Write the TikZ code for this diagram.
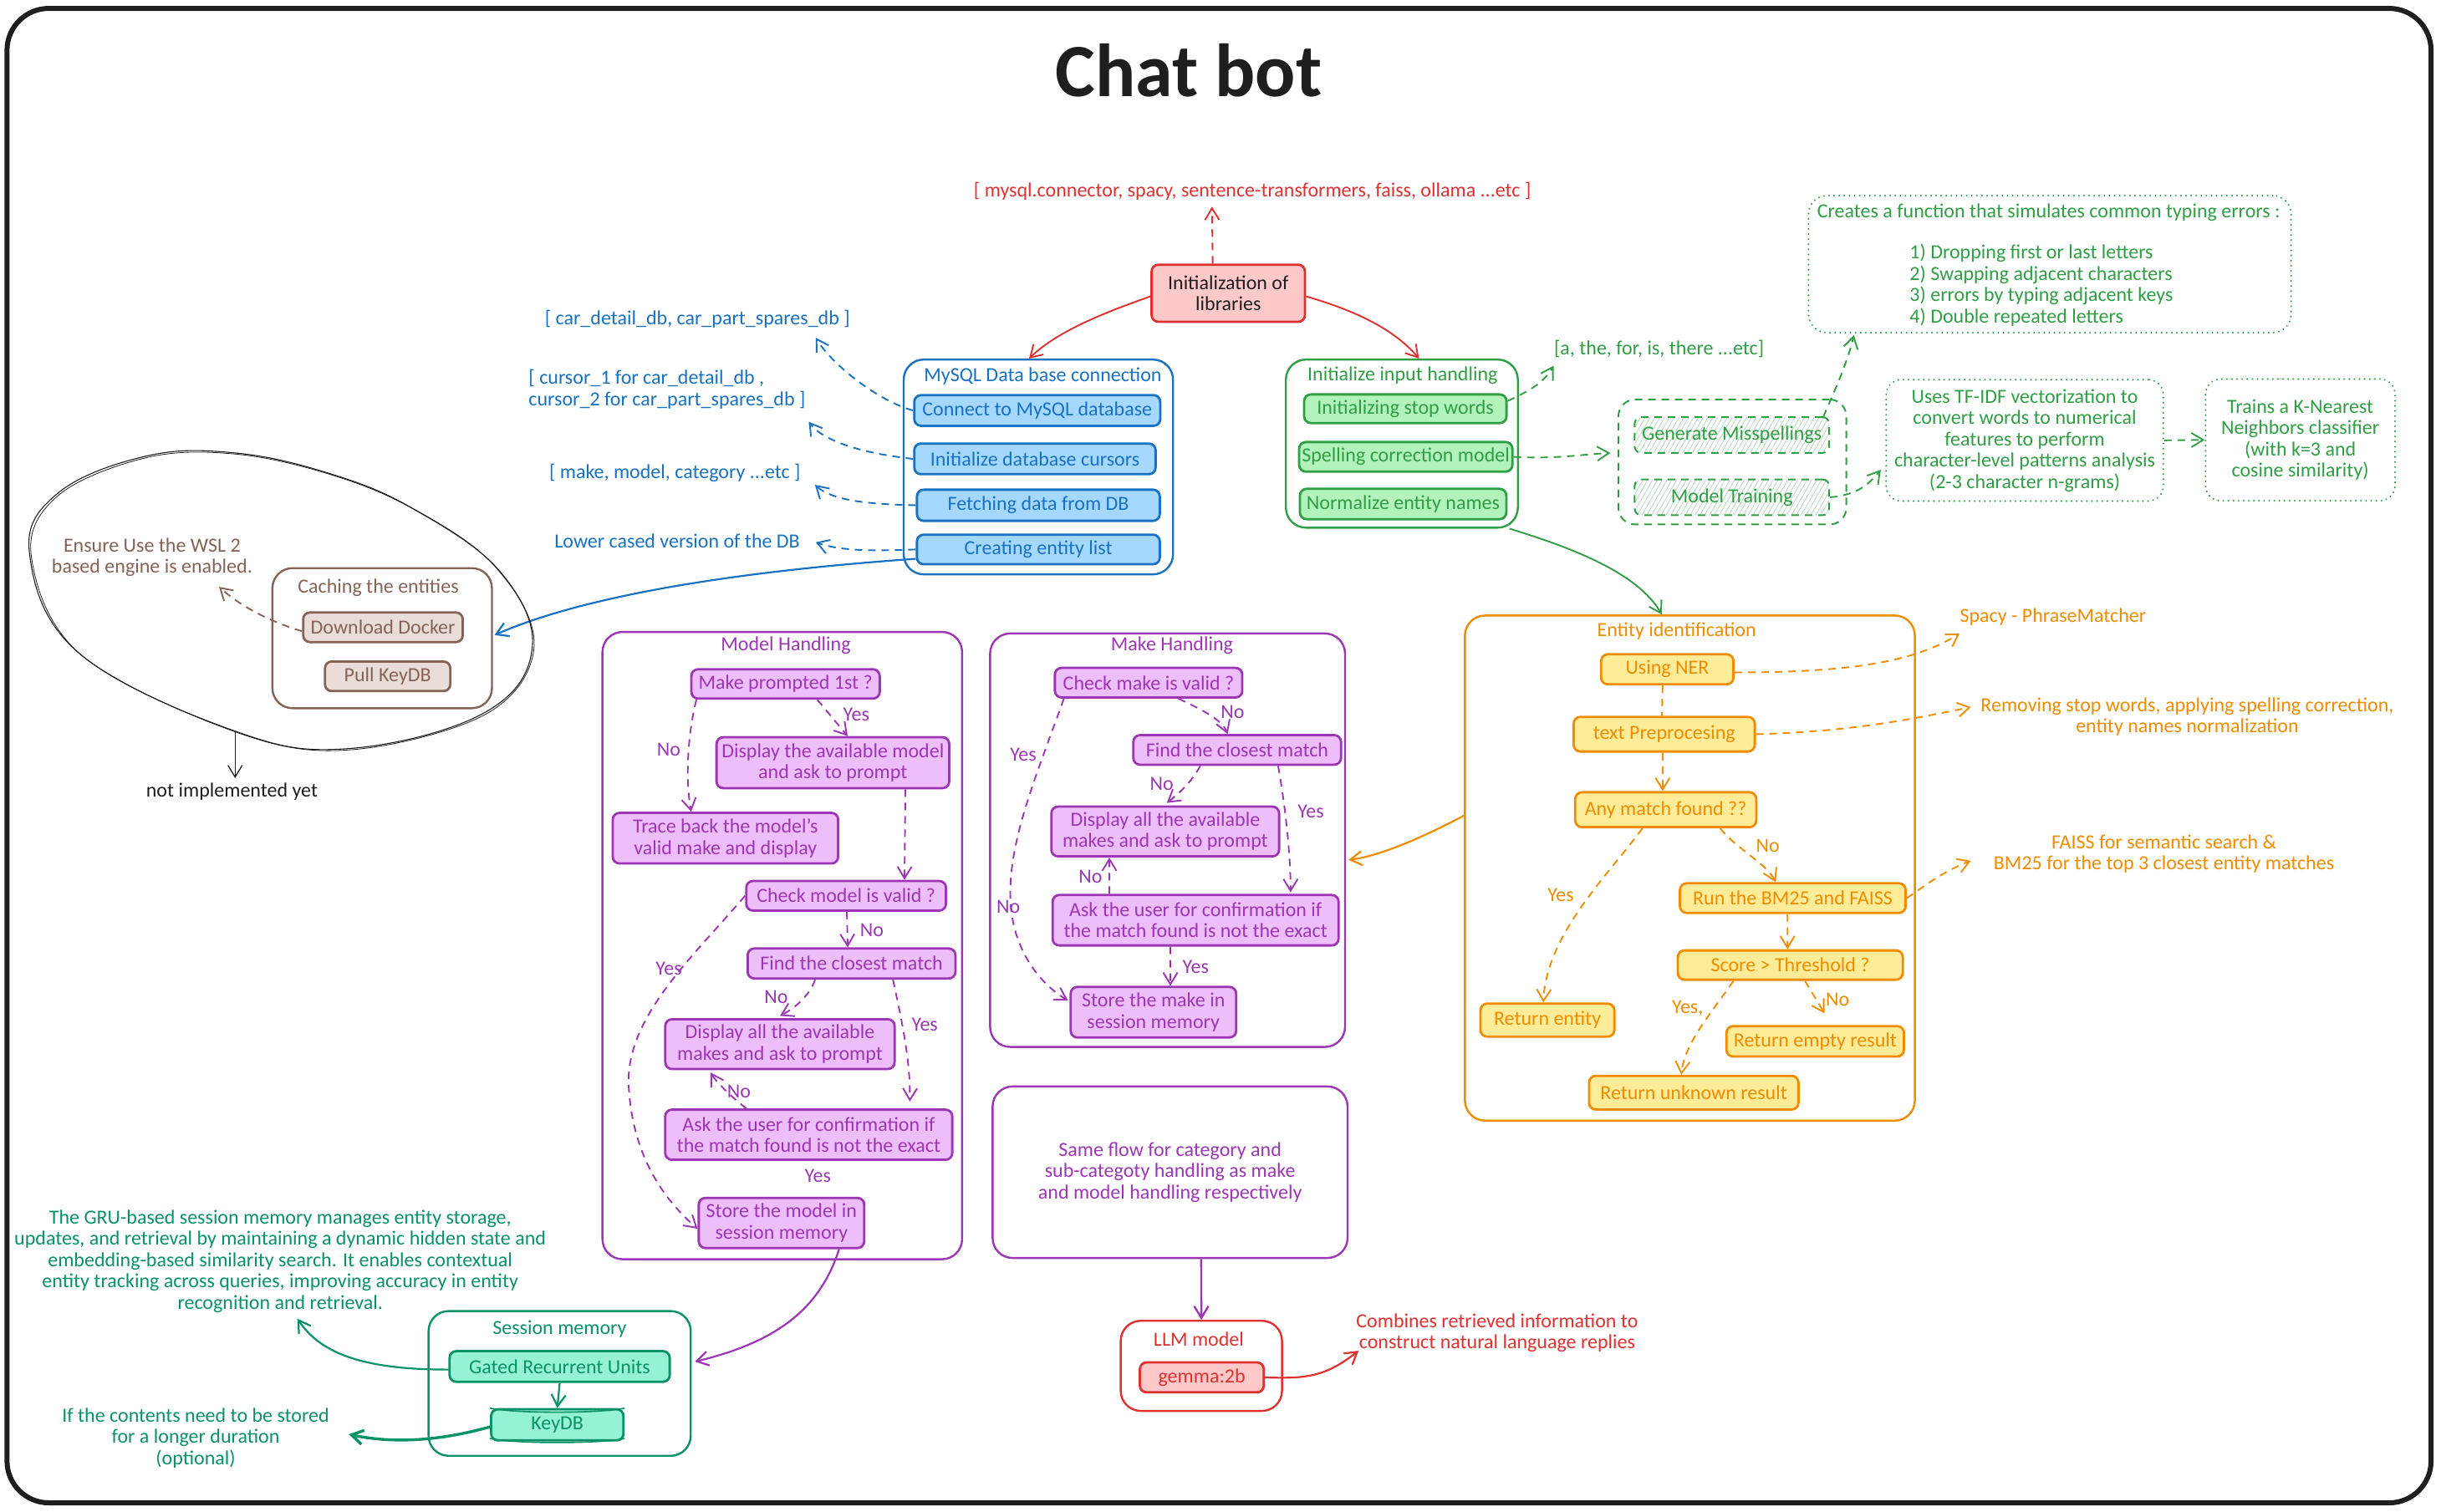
\documentclass[tikz,border=0pt]{standalone}
\usepackage{fontspec}
\setmainfont{Carlito}
\usetikzlibrary{arrows.meta,calc,patterns.meta}
\definecolor{ink}{HTML}{1E1E1E}
\definecolor{cR}{HTML}{E03131}\definecolor{cRf}{HTML}{FFC9C9}
\definecolor{cB}{HTML}{1971C2}\definecolor{cBf}{HTML}{A5D8FF}
\definecolor{cG}{HTML}{2F9E44}\definecolor{cGf}{HTML}{B2F2BB}
\definecolor{cO}{HTML}{F08C00}\definecolor{cOf}{HTML}{FFEC99}
\definecolor{cP}{HTML}{9C36B5}\definecolor{cPf}{HTML}{EEBEFA}
\definecolor{cBr}{HTML}{846358}\definecolor{cBrf}{HTML}{EADDD7}
\definecolor{cT}{HTML}{099268}\definecolor{cTf}{HTML}{96F2D7}
\newcommand\fsz{\fontsize{24}{25.5}\selectfont}
\tikzset{
  txt/.style={font=\fsz, align=center, inner sep=0pt},
  sz/.style 2 args={minimum width=#1*1.8622pt, minimum height=#2*1.8622pt},
  bx/.style={txt, draw, line width=2.8pt, rounded corners=8pt},
  cont/.style={draw, line width=2.4pt, rounded corners=24pt, inner sep=0pt},
  ln/.style={line width=1.9pt},
  dsh/.style={dash pattern=on 9pt off 7pt},
  dotb/.style={dash pattern=on 0.1pt off 6pt, line cap=round, line width=2.2pt},
  arr/.style={-{Straight Barb[length=14pt,width=17pt]}},
  bB/.style={bx, draw=cB, fill=cBf, text=cB},
  bG/.style={bx, draw=cG, fill=cGf, text=cG},
  bO/.style={bx, draw=cO, fill=cOf, text=cO},
  bP/.style={bx, draw=cP, fill=cPf, text=cP},
  bBr/.style={bx, draw=cBr, fill=cBrf, text=cBr},
  bT/.style={bx, draw=cT, fill=cTf, text=cT},
  hatch/.style={txt, draw=cG, text=cG, line width=2pt, dsh, rounded corners=8pt,
     pattern={Lines[angle=60,distance=5pt,line width=0.7pt]}, pattern color=cG!40},
}
\begin{document}
\begin{tikzpicture}[x=1.8622pt,y=-1.8622pt]
\useasboundingbox (0,0) rectangle (1568,971);
\draw[ink, line width=6pt, rounded corners=50pt] (4.5,5.4) rectangle (1561.6,965.5);

\node[inner sep=0pt, text=ink, font=\fontsize{90}{90}\selectfont\bfseries] (title) at (763.6,45) {Chat bot};

% ---------- init
\node[bx, draw=cR, fill=cRf, text=ink, sz={98.5}{36.7}] (init) at (789,188.4) {Initialization of\\libraries};
\node[txt, text=cR] (libs) at (804.5,123) {[ mysql.connector, spacy, sentence-transformers, faiss, ollama ...etc ]};
\draw[cR, ln, dsh, arr] ($(init.north)+(-10,0)$) -- ($(libs.south)+(-26,4)$);

% ---------- MySQL
\node[cont, draw=cB, sz={173}{138}] (mysql) at (667,300) {};
\node[txt, text=cB] (mysqlT) at (669.9,241.7) {MySQL Data base connection};
\node[bB, sz={158}{19.7}] (c1) at (666.3,263.7) {Connect to MySQL database};
\node[bB, sz={155}{19.7}] (c2) at (664.8,294.8) {Initialize database cursors};
\node[bB, sz={156}{20}] (c3) at (667,324.6) {Fetching data from DB};
\node[bB, sz={156}{19}] (c4) at (667,353) {Creating entity list};
\node[txt, text=cB] (n1) at (448,205) {[ car\_detail\_db, car\_part\_spares\_db ]};
\node[txt, text=cB, align=left] (n2) at (428.5,250) {[ cursor\_1 for car\_detail\_db ,\\cursor\_2 for car\_part\_spares\_db ]};
\node[txt, text=cB] (n3) at (433.5,304) {[ make, model, category ...etc ]};
\node[txt, text=cB] (n4) at (435,347.4) {Lower cased version of the DB};

\draw[cR, ln, arr] ($(init.west)+(0,2)$) .. controls (712,200) and (680,212) .. ($(mysql.north)+(-6,0)$);

\draw[cB, ln, dsh, arr] (c1.west) .. controls (565,258) and (535,235) .. ($(n1)+(76,12)$);
\draw[cB, ln, dsh, arr] (c2.west) .. controls (560,292) and (530,285) .. ($(n2)+(91,21)$);
\draw[cB, ln, dsh, arr] (c3.west) .. controls (560,324) and (535,322) .. ($(n3)+(90,7.5)$);
\draw[cB, ln, dsh, arr] (c4.west) .. controls (560,354) and (540,354) .. ($(n4)+(89,1)$);

% ---------- caching
\node[cont, draw=cBr, sz={141}{90}] (cache) at (245.5,410) {};
\node[txt, text=cBr] (cacheT) at (243,377.6) {Caching the entities};
\node[bBr, sz={102.5}{19}] (dd) at (246,403) {Download Docker};
\node[bBr, sz={80.5}{19}] (pk) at (249,434.5) {Pull KeyDB};
\node[txt, text=cBr] (wsl) at (97.7,358) {Ensure Use the WSL 2\\based engine is enabled.};
\draw[cBr, ln, dsh, arr] ($(dd.west)+(0,2.5)$) .. controls (175,400) and (155,390) .. ($(wsl)+(43,19)$);
\draw[cB, line width=2.2pt, arr] ($(c4.west)+(0,6)$) .. controls (460,368) and (370,385) .. ($(cache.east)+(1,-2)$);

\draw[ink, line width=1.1pt] plot[smooth cycle, tension=0.65] coordinates {(94,293) (151,291) (211,304) (264,326) (319,365) (342,415) (311,458) (223,481) (149,469) (50,419) (19,356) (37,317)};
\draw[ink, line width=0.8pt, xshift=2pt, yshift=-1.5pt] plot[smooth cycle, tension=0.6] coordinates {(94,293) (151,291) (211,304) (264,326) (319,365) (342,415) (311,458) (223,481) (149,469) (50,419) (19,356) (37,317)};
\coordinate (ellb) at (151,470);
\node[txt, text=ink] (ni) at (149,508.5) {not implemented yet};
\draw[ink, line width=1.3pt, arr] (ellb) -- ($(ni.north)+(2,-3)$);

% ---------- input handling
\node[cont, draw=cG, sz={149}{108}] (inp) at (900.5,285) {};
\node[txt, text=cG] (inpT) at (901,241) {Initialize input handling};
\node[bG, sz={130}{18.4}] (g1) at (902.7,262.6) {Initializing stop words};
\node[bG, sz={137}{19}] (g2) at (903,293.5) {Spelling correction model};
\node[bG, sz={132.6}{19.5}] (g3) at (901.3,323.8) {Normalize entity names};
\node[txt, text=cG] (gn1) at (1065.7,224) {[a, the, for, is, there ...etc]};
\draw[cR, ln, arr] ($(init.east)+(0,2)$) .. controls (872,200) and (896,212) .. ($(inp.north)+(11,0)$);
\draw[cG, ln, dsh, arr] ($(g1.east)+(0,-5)$) .. controls (985,250) and (992,245) .. ($(gn1)+(-67.7,11)$);

\node[draw=cG, line width=2pt, dsh, rounded corners=20pt, sz={146.4}{80.3}] (dcont) at (1112.8,296.8) {};
\node[hatch, sz={125}{23}] (gm) at (1112.5,279.5) {Generate Misspellings};
\node[hatch, sz={125}{23}] (mt) at (1112.5,319.5) {Model Training};
\draw[cG, ln, dsh, arr] (g2.east) .. controls (1000,295) and (1015,292) .. ($(dcont.west)+(-4.6,-5.8)$);

\node[draw=cG, dotb, rounded corners=22pt, sz={310}{88}] (note1) at (1316.7,169.7) {};
\node[txt, text=cG] (note1T) at (1316,136.4) {Creates a function that simulates common typing errors :};
\node[txt, text=cG, align=left, anchor=west] (note1L) at (1226.6,183.2) {1) Dropping first or last letters\\2) Swapping adjacent characters\\3) errors by typing adjacent keys\\4) Double repeated letters};
\draw[cG, ln, dsh, arr] ($(gm.north east)+(-4,0)$) .. controls (1178,252) and (1186,235) .. ($(note1.south west)+(29.8,1)$);

\node[txt, text=cG, draw=cG, dotb, rounded corners=18pt, sz={178}{78}] (tfidf) at (1300.6,282.9) {Uses TF-IDF vectorization to\\convert words to numerical\\features to perform\\character-level patterns analysis\\(2-3 character n-grams)};
\node[txt, text=cG, draw=cG, dotb, rounded corners=18pt, sz={121.7}{78.2}] (knn) at (1477.6,282.6) {Trains a K-Nearest\\Neighbors classifier\\(with k=3 and\\cosine similarity)};
\draw[cG, ln, dsh, arr] (mt.east) .. controls (1192,318) and (1200,312) .. ($(tfidf.west)+(-2.9,18.9)$);
\draw[cG, ln, dsh, arr] (tfidf.east) -- (knn.west);

% ---------- entity identification
\node[cont, draw=cO, sz={289}{324.5}] (ent) at (1085.5,557.7) {};
\node[txt, text=cO] (entT) at (1077,405.5) {Entity identification};
\draw[cG, ln, arr] ($(inp.south east)+(-6,0)$) .. controls (1010,352) and (1052,368) .. ($(ent.north)+(-18,0)$);
\node[bO, sz={85}{19.3}] (o1) at (1071,430) {Using NER};
\node[bO, sz={116.4}{22.2}] (o2) at (1069,471.7) {text Preprocesing};
\node[bO, sz={116.3}{22.4}] (o3) at (1070,520.2) {Any match found ??};
\node[bO, sz={145}{19}] (o4) at (1151.6,577) {Run the BM25 and FAISS};
\node[bO, sz={144.5}{18.8}] (o5) at (1150,620) {Score > Threshold ?};
\node[bO, sz={86}{21.2}] (o6) at (994,655.4) {Return entity};
\node[bO, sz={114}{19.5}] (o7) at (1166,669) {Return empty result};
\node[bO, sz={134.5}{21.6}] (o8) at (1088,702) {Return unknown result};
\node[txt, text=cO] (on1) at (1318.8,396.4) {Spacy - PhraseMatcher};
\node[txt, text=cO] (on2) at (1405,460.5) {Removing stop words, applying spelling correction,\\entity names normalization};
\node[txt, text=cO] (on3) at (1390,548.5) {FAISS for semantic search \&\\BM25 for the top 3 closest entity matches};

\draw[cO, ln, dsh] ($(o1.south)+(-3,0)$) -- ($(o2.north)+(-1.5,0)$);
\draw[cO, ln, dsh, arr] ($(o2.south)+(-1,0)$) -- ($(o3.north)+(-2,0)$);
\draw[cO, ln, dsh, arr] ($(o3.south)+(-15,0)$) .. controls (1035,560) and (993,600) .. ($(o6.north)+(-2.6,0)$);
\node[txt, text=cO] (lyA) at (1002.6,575) {Yes};
\draw[cO, ln, dsh, arr] ($(o3.south)+(35,0)$) .. controls (1115,545) and (1135,555) .. ($(o4.north)+(-11,0)$);
\node[txt, text=cO] (lnA) at (1135.6,543.5) {No};
\draw[cO, ln, dsh, arr] ($(o4.south)+(-3.4,0)$) -- ($(o5.north)+(-1.8,0)$);
\draw[cO, ln, dsh, arr] ($(o5.south)+(-36.5,0)$) .. controls (1100,650) and (1082,670) .. ($(o8.north)+(-8,0)$);
\node[txt, text=cO] (lyB) at (1084,648) {Yes,};
\draw[cO, ln, dsh, arr] ($(o5.south)+(9.4,0)$) -- ($(o7.north)+(6,-7.5)$);
\node[txt, text=cO] (lnB) at (1180.4,642.3) {No};
\draw[cO, ln, dsh, arr] ($(o1.east)+(0,2)$) .. controls (1190,432) and (1230,425) .. ($(on1)+(-60,10.6)$);
\draw[cO, ln, dsh, arr] (o2.east) .. controls (1190,470) and (1228,462) .. ($(on2)+(-139,-6.2)$);
\draw[cO, ln, dsh, arr] (o4.east) .. controls (1238,568) and (1248,560) .. ($(on3)+(-124,4.5)$);

% ---------- model handling
\node[cont, draw=cP, sz={231}{403}] (mh) at (502.5,607.5) {};
\node[txt, text=cP] (mhT) at (504.8,414.9) {Model Handling};
\node[bP, sz={121}{18.8}] (p1) at (504.6,439.4) {Make prompted 1st ?};
\node[bP, sz={149.5}{32.7}] (p2) at (535,490) {Display the available model\\and ask to prompt};
\node[bP, sz={144.8}{32.5}] (p3) at (466,538.5) {Trace back the model's\\valid make and display};
\node[bP, sz={128.3}{19}] (p4) at (543.5,575.5) {Check model is valid ?};
\node[bP, sz={133.5}{19.3}] (p5) at (547,619) {Find the closest match};
\node[bP, sz={147.3}{32}] (p6) at (501,670.8) {Display all the available\\makes and ask to prompt};
\node[bP, sz={184.4}{32.2}] (p7) at (519.5,729) {Ask the user for confirmation if\\the match found is not the exact};
\node[bP, sz={106.3}{32.2}] (p8) at (502,785.7) {Store the model in\\session memory};

\draw[cP, ln, dsh, arr] ($(p1.south west)+(4,0)$) .. controls (442,470) and (440,500) .. ($(p3.north)+(-22,0)$);
\node[txt, text=cP] (pl1) at (429.6,481.6) {No};
\draw[cP, ln, dsh, arr] ($(p1.south)+(20.4,0)$) -- ($(p2.north)+(9.5,0)$);
\node[txt, text=cP] (pl2) at (550,459) {Yes};
\draw[cP, ln, dsh, arr] ($(p2.south)+(46.6,0)$) -- ($(p4.north)+(37.5,0)$);
\draw[cP, ln, dsh, arr] ($(p4.south)+(0.5,0)$) -- ($(p5.north)+(-2.5,0)$);
\node[txt, text=cP] (pl3) at (560,597.5) {No};
\draw[cP, ln, dsh, arr] (p4.west) .. controls (445,615) and (400,655) .. (404,700) .. controls (407,745) and (428,772) .. ($(p8.west)+(0,3.7)$);
\node[txt, text=cP] (pl4) at (429.6,622.4) {Yes};
\draw[cP, ln, dsh, arr] ($(p5.south)+(-23.4,0)$) .. controls (520,640) and (510,648) .. ($(p6.north)+(0,-1.4)$);
\node[txt, text=cP] (pl5) at (498.5,640.8) {No};
\draw[cP, ln, dsh, arr] ($(p5.south)+(26.6,0)$) .. controls (578,650) and (585,680) .. ($(p7.north)+(64.9,-4.5)$);
\node[txt, text=cP] (pl6) at (594,658.2) {Yes};
\draw[cP, ln, dsh, arr] ($(p7.north)+(-40,0)$) .. controls (470,705) and (460,695) .. ($(p6.south)+(-44.6,1.5)$);
\node[txt, text=cP] (pl7) at (474.7,701.4) {No};
\node[txt, text=cP] (pl8) at (525.3,755.7) {Yes};

% ---------- make handling
\node[cont, draw=cP, sz={228}{265.6}] (mk) at (750,539.8) {};
\node[txt, text=cP] (mkT) at (752.8,414.9) {Make Handling};
\node[bP, sz={120.4}{19}] (q1) at (737.8,438.6) {Check make is valid ?};
\node[bP, sz={133.4}{19}] (q2) at (794.7,481.8) {Find the closest match};
\node[bP, sz={146.3}{32}] (q3) at (748.5,534.2) {Display all the available\\makes and ask to prompt};
\node[bP, sz={183.7}{32.4}] (q4) at (768,591.2) {Ask the user for confirmation if\\the match found is not the exact};
\node[bP, sz={106.3}{32.5}] (q5) at (740.9,650.3) {Store the make in\\session memory};

\draw[cP, ln, dsh, arr] ($(q1.south)+(19.2,0)$) .. controls (770,455) and (785,462) .. ($(q2.north)+(-6.1,0)$);
\node[txt, text=cP] (ql1) at (791.8,457.3) {No};
\draw[cP, ln, dsh, arr] ($(q1.south)+(-54.4,0)$) .. controls (665,500) and (648,540) .. (649,577) .. controls (650,610) and (668,632) .. ($(q5.west)+(-1,-7.5)$);
\node[txt, text=cP] (ql2) at (657.3,484.7) {Yes};
\node[txt, text=cP] (ql3) at (647.7,582.6) {No};
\draw[cP, ln, dsh, arr] ($(q2.south)+(-23.7,0)$) .. controls (765,503) and (757,510) .. ($(q3.north)+(1,-1.6)$);
\node[txt, text=cP] (ql4) at (746.3,503.7) {No};
\draw[cP, ln, dsh, arr] ($(q2.south)+(26.3,0)$) .. controls (826,520) and (829,550) .. ($(q4.north)+(61,-1)$);
\node[txt, text=cP] (ql5) at (842,521.5) {Yes};
\draw[cP, ln, dsh, arr] ($(q4.north)+(-55.4,0)$) -- ($(q3.south)+(-35.9,0)$);
\node[txt, text=cP] (ql6) at (700.4,563.2) {No};
\draw[cP, ln, dsh, arr] ($(q4.south)+(-16.2,0)$) -- ($(q5.north)+(10.9,0)$);
\node[txt, text=cP] (ql7) at (768,621.2) {Yes};

\draw[cO, line width=2.2pt, arr] ($(ent.west)+(0,-33.7)$) .. controls (910,540) and (885,550) .. ($(mk.east)+(1.6,12.7)$);

% ---------- same flow + LLM
\node[cont, draw=cP, txt, text=cP, line width=2.4pt, rounded corners=24pt, sz={228}{110.2}] (sf) at (751.6,753.1) {Same flow for category and\\sub-categoty handling as make\\and model handling respectively};
\node[cont, draw=cR, sz={103.6}{57.9}] (llm) at (771.7,877.5) {};
\node[txt, text=cR] (llmT) at (770,860.6) {LLM model};
\node[bx, draw=cR, fill=cRf, text=cR, sz={79.6}{19.2}] (gemma) at (772,884.9) {gemma:2b};
\node[txt, text=cR] (comb) at (961.7,856.4) {Combines retrieved information to\\construct natural language replies};
\draw[cP, line width=2.4pt, arr] ($(sf.south)+(20,0)$) -- ($(llm.north)+(0,0)$);
\draw[cR, line width=2.2pt, arr] (gemma.east) .. controls (840,886) and (852,884) .. ($(comb)+(-89,11.4)$);

% ---------- session memory
\node[cont, draw=cT, sz={168.4}{93}] (sm) at (359.5,888.8) {};
\node[txt, text=cT] (smT) at (359.5,853.8) {Session memory};
\node[bT, sz={141.4}{19.7}] (gru) at (359.5,877.9) {Gated Recurrent Units};
\node[bT, sz={85}{20}] (kdb) at (358,915.4) {KeyDB};
\draw[cT, line width=1.6pt] (kdb.north west) .. controls ($(kdb.north west)+(15,3.5)$) and ($(kdb.north east)+(-15,3.5)$) .. (kdb.north east);
\draw[cT, line width=1.6pt] ($(kdb.south west)+(0,-2)$) .. controls ($(kdb.south west)+(15,1.5)$) and ($(kdb.south east)+(-15,1.5)$) .. ($(kdb.south east)+(0,-2)$);
\node[txt, text=cT] (gnote) at (180,810.2) {The GRU-based session memory manages entity storage,\\updates, and retrieval by maintaining a dynamic hidden state and\\embedding-based similarity search. It enables contextual\\entity tracking across queries, improving accuracy in entity\\recognition and retrieval.};
\node[txt, text=cT] (knote) at (125.7,923.8) {If the contents need to be stored\\for a longer duration\\(optional)};
\draw[cT, line width=2.2pt, arr] (gru.south) -- (kdb.north);
\draw[cT, line width=2.2pt, arr] ($(gru.west)+(0,2)$) .. controls (230,880) and (205,868) .. ($(gnote)+(11,37)$);
\draw[cT, line width=3.4pt, arr] ($(kdb.west)+(0,1.3)$) .. controls (285,925) and (255,928) .. ($(knote)+(98.3,-2.3)$);
\draw[cP, line width=2.2pt, arr] ($(p8.south)+(37,0)$) .. controls (527,840) and (500,862) .. ($(sm.east)+(2,-14)$);
\end{tikzpicture}
\end{document}
